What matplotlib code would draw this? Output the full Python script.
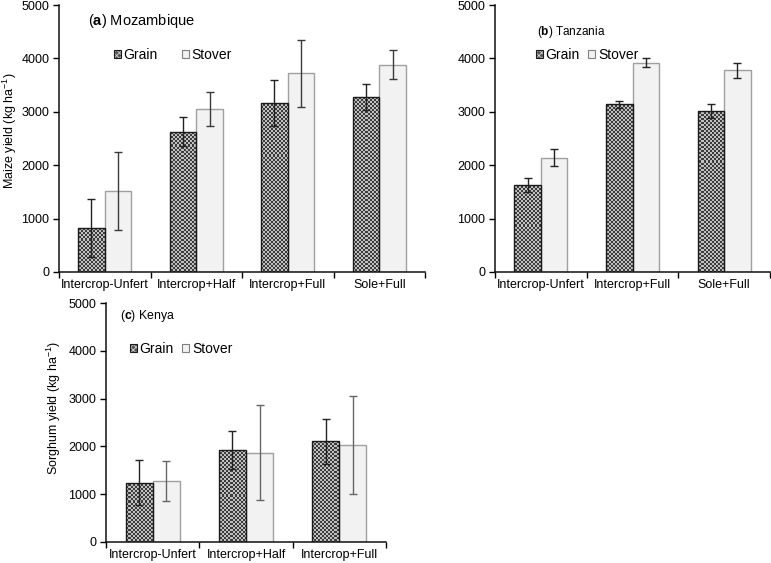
import matplotlib
matplotlib.use("Agg")
import matplotlib.pyplot as plt
from matplotlib.patches import Patch
import numpy as np

plt.rcParams["font.family"] = ["Liberation Sans", "DejaVu Sans"]
plt.rcParams["mathtext.fontset"] = "custom"
plt.rcParams["mathtext.rm"] = "Liberation Sans"
plt.rcParams["mathtext.it"] = "Liberation Sans:italic"
plt.rcParams["mathtext.bf"] = "Liberation Sans:bold"
plt.rcParams["hatch.linewidth"] = 0.6

# (a) Mozambique
moz_cats = ["Intercrop-Unfert", "Intercrop+Half", "Intercrop+Full", "Sole+Full"]
moz_grain = [830, 2630, 3170, 3270]
moz_grain_err = [540, 265, 430, 245]
moz_stover = [1520, 3060, 3720, 3880]
moz_stover_err = [730, 320, 625, 270]

# (b) Tanzania
tan_cats = ["Intercrop-Unfert", "Intercrop+Full", "Sole+Full"]
tan_grain = [1630, 3140, 3020]
tan_grain_err = [130, 65, 130]
tan_stover = [2140, 3920, 3780]
tan_stover_err = [160, 80, 140]

# (c) Kenya
ken_cats = ["Intercrop-Unfert", "Intercrop+Half", "Intercrop+Full"]
ken_grain = [1240, 1925, 2105]
ken_grain_err = [470, 405, 472]
ken_stover = [1280, 1865, 2030]
ken_stover_err = [415, 993, 1025]

GRAIN_DARK = 0.24
GRAIN_LIGHT = 0.75
STOVER_FACE = "#f2f2f2"
STOVER_EDGE = "#a0a0a0"

W, H = 771, 563
fig = plt.figure(figsize=(W / 100, H / 100), dpi=100)


def px_axes(left, right, top, bottom):
    return fig.add_axes([left / W, 1 - bottom / H, (right - left) / W, (bottom - top) / H])


def checker(h_px, w_px):
    # 2px checkerboard texture, like the spreadsheet pattern fill
    yy, xx = np.mgrid[0:h_px, 0:w_px]
    cells = ((yy // 2) + (xx // 2)) % 2
    return np.where(cells == 1, GRAIN_LIGHT, GRAIN_DARK)


def draw_panel(ax, cats, grain, grain_err, stover, stover_err, stover_ecol, size_px):
    x = np.arange(len(cats))
    bw = 0.29
    ax.set_xlim(-0.5, len(cats) - 0.5)
    ax.set_ylim(0, 5000)

    grain_bars = ax.bar(x - bw / 2, grain, bw, color="#555555", linewidth=0, zorder=2)
    tex = checker(size_px[1], size_px[0])
    for bar in grain_bars:
        im = ax.imshow(tex, cmap="gray", vmin=0, vmax=1, interpolation="nearest",
                       extent=(-0.5, len(cats) - 0.5, 0, 5000), aspect="auto", zorder=2.5)
        im.set_clip_path(bar)
    ax.bar(x - bw / 2, grain, bw, fill=False, edgecolor="#1a1a1a", linewidth=1.0, zorder=3)
    ax.bar(x + bw / 2, stover, bw, color=STOVER_FACE, edgecolor=STOVER_EDGE,
           linewidth=1.0, zorder=2)
    ax.errorbar(x - bw / 2, grain, yerr=grain_err, fmt="none", ecolor="#222222",
                elinewidth=1.0, capsize=2.8, capthick=1.0, zorder=4)
    ax.errorbar(x + bw / 2, stover, yerr=stover_err, fmt="none", ecolor=stover_ecol,
                elinewidth=1.0, capsize=2.8, capthick=1.0, zorder=4)

    ax.set_xlim(-0.5, len(cats) - 0.5)
    ax.set_ylim(0, 5000)
    ax.set_yticks(np.arange(0, 5001, 1000))
    ax.set_xticks(np.arange(len(cats) + 1) - 0.5)
    ax.set_xticklabels([])
    ax.set_xticks(x, minor=True)
    ax.set_xticklabels(cats, minor=True)
    ax.tick_params(axis="x", which="minor", length=0, pad=5, labelsize=9)
    ax.tick_params(axis="x", which="major", length=4, direction="out", width=1)
    ax.tick_params(axis="y", length=4, direction="out", width=1, labelsize=9, pad=3)
    for s in ("top", "right"):
        ax.spines[s].set_visible(False)
    for s in ("left", "bottom"):
        ax.spines[s].set_linewidth(1.1)
        ax.spines[s].set_color("#111111")


def add_legend(ax, xy, fontsize, spacing):
    grain_h = (Patch(facecolor="#555555", edgecolor="#cfcfcf", hatch="xxxxxx", linewidth=0),
               Patch(fill=False, edgecolor="#1a1a1a", linewidth=0.8))
    stover_h = Patch(facecolor=STOVER_FACE, edgecolor="#808080", linewidth=0.8)
    ax.legend([grain_h, stover_h], ["Grain", "Stover"], ncol=2, frameon=False,
              loc="upper left", bbox_to_anchor=xy, bbox_transform=fig.transFigure,
              fontsize=fontsize, handlelength=0.5, handleheight=0.5,
              handletextpad=0.2, columnspacing=spacing, borderpad=0, borderaxespad=0)


ax_a = px_axes(59, 425, 5, 272)
draw_panel(ax_a, moz_cats, moz_grain, moz_grain_err, moz_stover, moz_stover_err,
           "#3a3a3a", (366, 267))
ax_a.set_ylabel("Maize yield (kg ha$^{-1}$)", fontsize=9)
ax_a.yaxis.set_label_coords(-0.11, 0.53)
fig.text(88 / W, 1 - 21 / H, r"($\mathbf{a}$) Mozambique", fontsize=10.5, va="center", ha="left")
add_legend(ax_a, (114 / W, 1 - 48 / H), 10, 1.7)

ax_b = px_axes(495, 770, 5, 272)
draw_panel(ax_b, tan_cats, tan_grain, tan_grain_err, tan_stover, tan_stover_err,
           "#222222", (275, 267))
fig.text(537 / W, 1 - 32 / H, r"($\mathbf{b}$) Tanzania", fontsize=8.5, va="center", ha="left")
add_legend(ax_b, (536 / W, 1 - 48 / H), 10, 0.6)

ax_c = px_axes(106, 386, 303, 542)
draw_panel(ax_c, ken_cats, ken_grain, ken_grain_err, ken_stover, ken_stover_err,
           "#666666", (280, 239))
ax_c.set_ylabel("Sorghum yield (kg ha$^{-1}$)", fontsize=9)
ax_c.yaxis.set_label_coords(-0.154, 0.56)
fig.text(120 / W, 1 - 316 / H, r"($\mathbf{c}$) Kenya", fontsize=8.8, va="center", ha="left")
add_legend(ax_c, (130 / W, 1 - 342 / H), 10, 0.6)

fig.savefig("out.png", dpi=100)
